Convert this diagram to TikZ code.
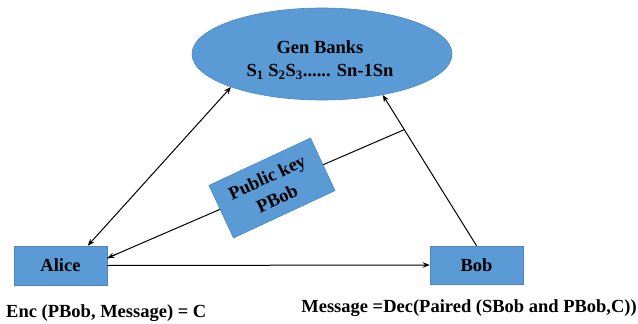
\documentclass[tikz,border=0pt]{standalone}
\usepackage{fontspec}
\setmainfont{Liberation Serif}
\usetikzlibrary{shapes.geometric,arrows.meta,calc}
\definecolor{boxblue}{HTML}{5B9BD5}
\definecolor{edgeblue}{HTML}{4A86C0}
\begin{document}
\begin{tikzpicture}[x=1pt,y=-1pt,
  blueshape/.style={fill=boxblue, draw=edgeblue, line width=0.6pt},
  lbl/.style={font=\fontsize{18.5}{23}\selectfont\bfseries, text=black},
  arr/.style={-{Stealth[length=7pt,width=5.5pt]}, line width=1pt},
  darr/.style={{Stealth[length=7pt,width=5.5pt]}-{Stealth[length=7pt,width=5.5pt]}, line width=1pt}]
\useasboundingbox (0,0) rectangle (638,324);
\node[blueshape, ellipse, minimum width=260pt, minimum height=92pt, inner sep=0pt] (gen) at (322,54) {};
\node[lbl, align=center, inner sep=0pt] (gentext) at (320,60) {Gen Banks\\S\textsubscript{1} S\textsubscript{2}S\textsubscript{3}...... Sn-1Sn};
\node[blueshape, minimum width=93pt, minimum height=39pt, lbl] (alice) at (60.5,265.5) {Alice};
\node[blueshape, minimum width=93pt, minimum height=38pt, lbl] (bob) at (476.5,265) {Bob};
\coordinate (j) at ($(bob.north)!0.77!(gen.-34)$);
\draw[darr] (alice.36) -- (gen.200);
\draw[arr] (bob.north) -- (gen.-34);
\draw[line width=1pt] (j) -- (alice.9);
\draw[arr] (alice.east) -- (bob.west);
\node[blueshape, rotate=25, minimum width=112pt, minimum height=58pt, lbl, align=center, inner sep=2pt] (pk) at (272,188) {Public key\\[1pt]PBob};
\draw[arr] ($(j)!0.97!(alice.9)$) -- (alice.9);
\node[lbl, anchor=west, inner sep=0pt] (enc) at (6,313) {Enc (PBob, Message) = C};
\node[lbl, anchor=east, inner sep=0pt] (dec) at (637,308) {Message =Dec(Paired (SBob and PBob,C))};
\end{tikzpicture}
\end{document}
